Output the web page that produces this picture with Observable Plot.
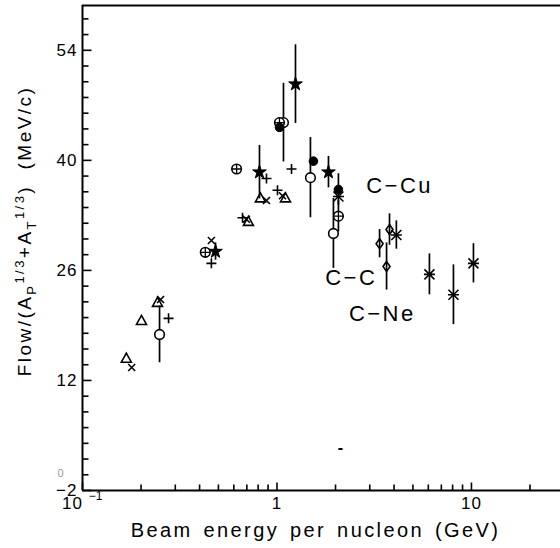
<!DOCTYPE html>
<html>
<head>
<meta charset="utf-8">
<script src="https://cdn.jsdelivr.net/npm/d3@7"></script>
<script src="https://cdn.jsdelivr.net/npm/@observablehq/plot@0.6"></script>
<style>
  html, body { margin: 0; padding: 0; background: #fff; }
  svg { display: block; }
</style>
</head>
<body>
<div id="chart"></div>
<script>
// ---- data (beam energy per nucleon in GeV, flow in MeV/c) ----
const triangles = [
  {e: 0.168, flow: 14.8}, {e: 0.201, flow: 19.6}, {e: 0.243, flow: 21.9},
  {e: 0.713, flow: 32.2}, {e: 0.822, flow: 35.2}, {e: 1.106, flow: 35.2}
];
const crosses = [
  {e: 0.179, flow: 13.65}, {e: 0.252, flow: 22.3}, {e: 0.460, flow: 29.8},
  {e: 0.696, flow: 32.5}, {e: 0.883, flow: 34.9}, {e: 1.067, flow: 35.5}
];
const pluses = [
  {e: 0.277, flow: 19.9}, {e: 0.460, flow: 26.9}, {e: 0.665, flow: 32.7},
  {e: 0.883, flow: 37.7}, {e: 1.006, flow: 36.2}, {e: 1.188, flow: 38.9}
];
const openCircles = [
  {e: 0.249, flow: 17.85, err: 3.6}, {e: 1.080, flow: 44.8, err: 5.0},
  {e: 1.486, flow: 37.8, err: 5.1}, {e: 1.951, flow: 30.7, err: 4.45}
];
const crossedCircles = [
  {e: 0.428, flow: 28.3}, {e: 0.620, flow: 38.9}, {e: 1.030, flow: 44.8},
  {e: 2.07, flow: 32.9, err: 2.0}
];
const filledCircles = [
  {e: 1.03, flow: 44.2}, {e: 1.54, flow: 39.9}, {e: 2.07, flow: 36.3, err: 2.0}
];
const stars = [
  {e: 0.483, flow: 28.4, err: 1.1}, {e: 0.813, flow: 38.5, err: 3.4},
  {e: 1.245, flow: 49.7, err: 5.0}, {e: 1.84, flow: 38.5, err: 2.0}
];
const diamonds = [
  {e: 3.37, flow: 29.4, err: 1.8}, {e: 3.79, flow: 31.2, err: 2.0}, {e: 3.66, flow: 26.5, err: 3.0}
];
const asterisks = [
  {e: 2.07, flow: 35.4}, {e: 4.11, flow: 30.5, err: 1.8}, {e: 6.08, flow: 25.5, err: 2.6},
  {e: 8.08, flow: 22.9, err: 3.8}, {e: 10.24, flow: 26.9, err: 2.5}
];
const reactionLabels = [
  {e: 4.27, flow: 36.8, text: "C−Cu"},
  {e: 2.41, flow: 25.0, text: "C−C"},
  {e: 3.48, flow: 20.5, text: "C−Ne"}
];
// ---- axes ----
const yMajor = [-2, 12, 26, 40, 54];
const yTickLabels = ["−2", "12", "26", "40", "54"];
const yMinor = [0, 2, 4, 6, 8, 10, 14, 16, 18, 20, 22, 24, 28, 30, 32, 34, 36, 38, 42, 44, 46, 48, 50, 52, 56, 58];
const xMajor = [0.1, 1, 10];
const xMinor = [0.2, 0.3, 0.4, 0.5, 0.6, 0.7, 0.8, 0.9, 2, 3, 4, 5, 6, 7, 8, 9, 20];
const xTickLabels = [{v: 0.1, base: "10", exp: "−1"}, {v: 1, base: "1"}, {v: 10, base: "10"}];
const xTitle = "Beam energy per nucleon (GeV)";
const scanMarks = [{e: 2.12, flow: 3.47, text: "-"}];

// ---- custom symbols ----
const lineSym = (dx, dy) => ({draw(c) { c.moveTo(0, 0); c.lineTo(dx, dy); }});
const plusSym = h => ({draw(c) { c.moveTo(-h, 0); c.lineTo(h, 0); c.moveTo(0, -h); c.lineTo(0, h); }});
const timesSym = h => ({draw(c) { c.moveTo(-h, -h); c.lineTo(h, h); c.moveTo(-h, h); c.lineTo(h, -h); }});
const asterSym = h => ({draw(c) {
  c.moveTo(-h * 1.1, 0); c.lineTo(h * 1.1, 0);
  c.moveTo(-h, -h); c.lineTo(h, h); c.moveTo(-h, h); c.lineTo(h, -h);
}});
const triSym = h => ({draw(c) { c.moveTo(0, -h * 1.05); c.lineTo(h, h * 0.75); c.lineTo(-h, h * 0.75); c.closePath(); }});
const diamSym = (w, h) => ({draw(c) { c.moveTo(0, -h); c.lineTo(w, 0); c.lineTo(0, h); c.lineTo(-w, 0); c.closePath(); }});

const withErr = [...openCircles, ...crossedCircles, ...filledCircles, ...stars, ...diamonds, ...asterisks].filter(d => d.err);
const SW = 1.6;

const plot = Plot.plot({
  width: 560, height: 548,
  marginLeft: 82, marginRight: 0, marginTop: 5, marginBottom: 58,
  x: {type: "log", domain: [0.1, 28.7], axis: null},
  y: {domain: [-2, 59.7], axis: null},
  style: {fontFamily: "'Liberation Sans', Arial, sans-serif", color: "black", background: "white"},
  marks: [
    // frame
    Plot.ruleX([0.1], {stroke: "black", strokeWidth: 2}),
    Plot.ruleY([-2], {stroke: "black", strokeWidth: 2}),
    Plot.ruleY([59.7], {stroke: "black", strokeWidth: 2}),
    // inward ticks
    Plot.dot(yMajor, {x: 0.1, y: d => d, symbol: lineSym(9, 0), r: 1, fill: "none", stroke: "black", strokeWidth: 1.6}),
    Plot.dot(yMinor, {x: 0.1, y: d => d, symbol: lineSym(6, 0), r: 1, fill: "none", stroke: "black", strokeWidth: 1.6}),
    Plot.dot(xMajor, {x: d => d, y: -2, symbol: lineSym(0, -8), r: 1, fill: "none", stroke: "black", strokeWidth: 1.6}),
    Plot.dot(xMinor, {x: d => d, y: -2, symbol: lineSym(0, -6), r: 1, fill: "none", stroke: "black", strokeWidth: 1.6}),
    // tick labels
    Plot.text(yMajor, {x: 0.1, y: d => d, text: (d, i) => yTickLabels[i], textAnchor: "end", dx: -5, fontSize: 17, className: "ls1"}),
    Plot.text(xTickLabels.filter(d => !d.exp), {x: "v", y: -2, text: "base", dy: 13, fontSize: 17, className: "ls1"}),
    Plot.text(xTickLabels.filter(d => d.exp), {x: "v", y: -2, text: "base", dy: 13, dx: -10, fontSize: 17, className: "ls1"}),
    Plot.text(xTickLabels.filter(d => d.exp), {x: "v", y: -2, text: "exp", dy: 6, dx: 13, fontSize: 12}),
    Plot.text([xTitle], {frameAnchor: "bottom", text: d => d, dy: 46, dx: -6, fontSize: 20, className: "xtitle"}),
    // error bars
    Plot.ruleX(withErr, {x: "e", y1: d => d.flow - d.err, y2: d => d.flow + d.err, stroke: "black", strokeWidth: 1.7}),
    // markers
    Plot.dot(triangles, {x: "e", y: "flow", symbol: triSym(5), r: 1, fill: "none", stroke: "black", strokeWidth: SW}),
    Plot.dot(crosses, {x: "e", y: "flow", symbol: timesSym(3.5), r: 1, fill: "none", stroke: "black", strokeWidth: SW}),
    Plot.dot(pluses, {x: "e", y: "flow", symbol: plusSym(5), r: 1, fill: "none", stroke: "black", strokeWidth: SW}),
    Plot.dot(openCircles, {x: "e", y: "flow", r: 4.8, fill: "white", stroke: "black", strokeWidth: SW}),
    Plot.dot(crossedCircles, {x: "e", y: "flow", r: 4.8, fill: "white", stroke: "black", strokeWidth: SW}),
    Plot.dot(crossedCircles, {x: "e", y: "flow", symbol: plusSym(4.8), r: 1, fill: "none", stroke: "black", strokeWidth: 1.3}),
    Plot.dot(filledCircles, {x: "e", y: "flow", r: 4.3, fill: "black", stroke: "black", strokeWidth: 1}),
    Plot.dot(stars, {x: "e", y: "flow", symbol: "star", r: 4.3, fill: "black", stroke: "black", strokeWidth: 1}),
    Plot.dot(diamonds, {x: "e", y: "flow", symbol: diamSym(3.5, 5), r: 1, fill: "none", stroke: "black", strokeWidth: SW}),
    Plot.dot(asterisks, {x: "e", y: "flow", symbol: asterSym(5), r: 1, fill: "none", stroke: "black", strokeWidth: SW}),
    // reaction labels
    Plot.text(reactionLabels, {x: "e", y: "flow", text: "text", fontSize: 22, className: "rlab"}),
    // scan specks
    Plot.text(scanMarks, {x: "e", y: "flow", text: "text", fontSize: 16, fontWeight: "bold"}),
    Plot.text([0.16], {x: 0.1, y: d => d, text: () => "0", dx: -22, fontSize: 11, fill: "#999"})
  ]
});

const svg = d3.select(plot);
// letter spacing (the plotter font is wider than Liberation Sans)
svg.selectAll(".xtitle text, text.xtitle").attr("letter-spacing", "2.4px").attr("word-spacing", "3px");
svg.selectAll(".rlab text, text.rlab").attr("letter-spacing", "2.5px");
svg.selectAll(".ls1 text, text.ls1").attr("letter-spacing", "1px");

// y-axis title with sub/superscripts
const t = svg.append("text")
  .attr("transform", "translate(31,231) rotate(-90)")
  .attr("text-anchor", "middle")
  .attr("font-size", 19)
  .attr("letter-spacing", 2.45)
  .style("fill", "black")
  .style("white-space", "pre");
t.append("tspan").text("Flow/(A");
t.append("tspan").attr("font-size", 13).attr("dy", 5).text("P");
t.append("tspan").attr("font-size", 13).attr("dy", -12).text("1/3");
t.append("tspan").attr("dy", 7).text("+A");
t.append("tspan").attr("font-size", 13).attr("dy", 5).text("T");
t.append("tspan").attr("font-size", 13).attr("dy", -12).text("1/3");
t.append("tspan").attr("dy", 7).text(")  (MeV/c)");

document.getElementById("chart").appendChild(plot);
</script>
</body>
</html>
